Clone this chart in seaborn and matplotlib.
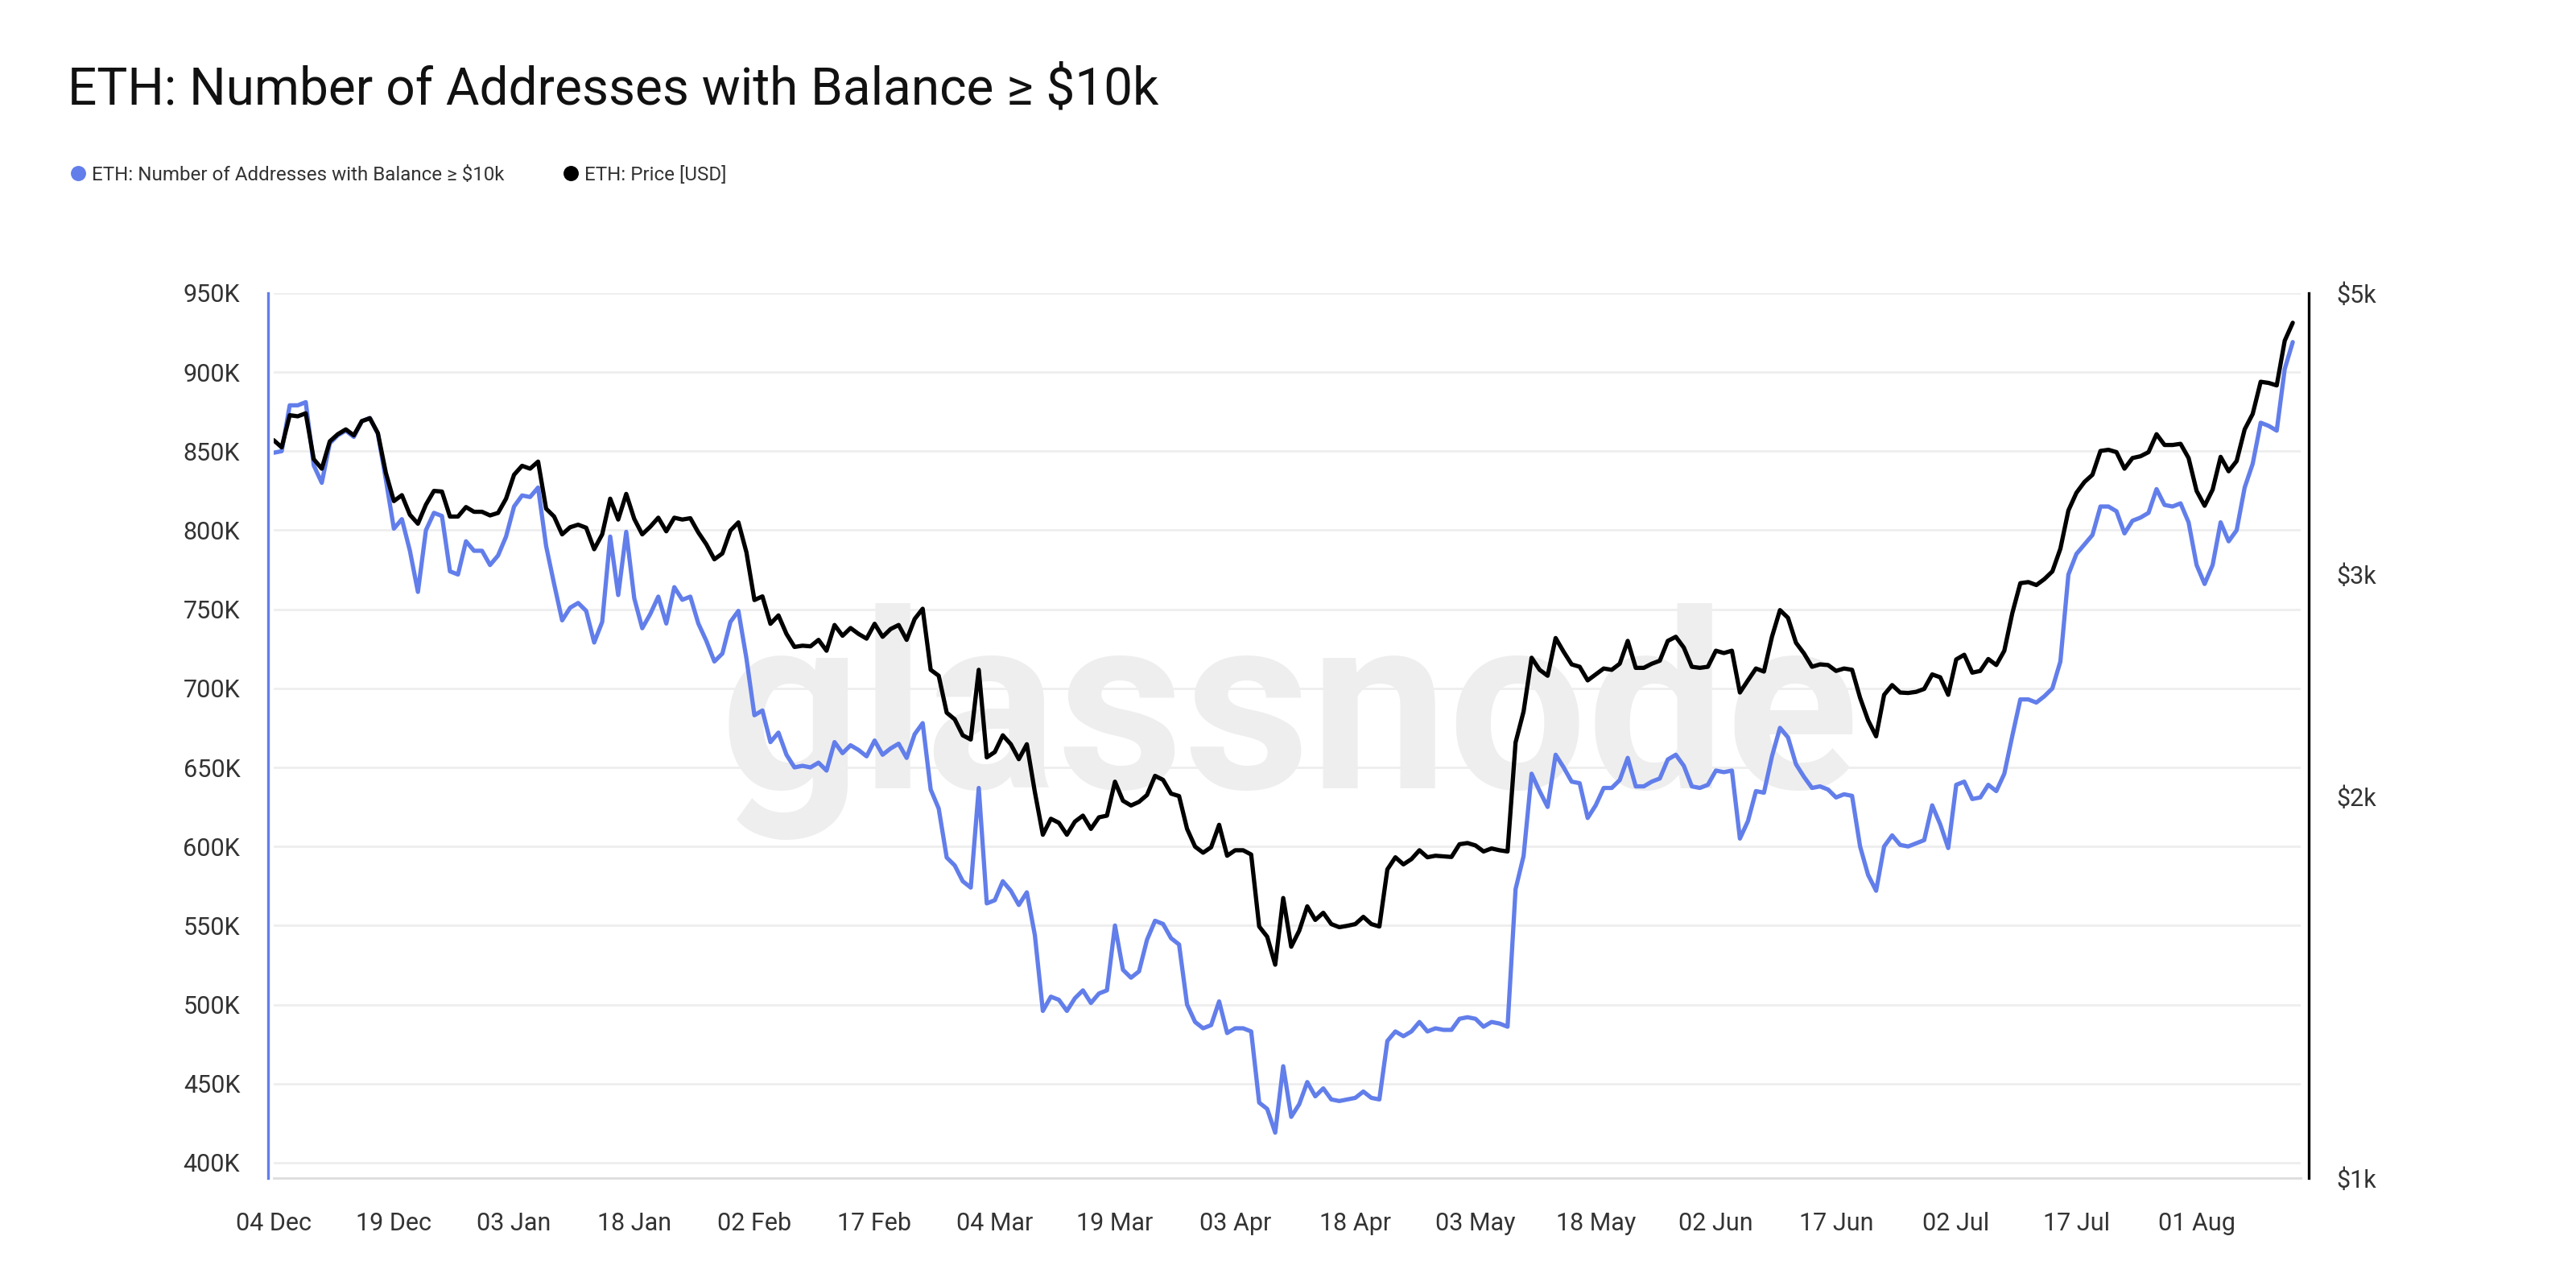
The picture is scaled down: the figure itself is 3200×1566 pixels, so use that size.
import pandas as pd
import numpy as np
import seaborn as sns
import matplotlib.pyplot as plt
import matplotlib.ticker as mticker
import matplotlib.dates as mdates
from matplotlib.lines import Line2D

# daily values, 2024-12-04 .. 2025-08-13
addresses_k = [
    849, 850, 879, 879, 881, 841, 830, 855, 860, 863, 859, 869, 871, 861, 832, 801,
    807, 787, 761, 800, 811, 809, 774, 772, 793, 787, 787, 778, 784, 796, 815, 822,
    821, 827, 790, 766, 743, 751, 754, 749, 729, 742, 796, 759, 799, 757, 738, 747,
    758, 741, 764, 756, 758, 741, 730, 717, 722, 742, 749, 719, 683, 686, 666, 672,
    658, 650, 651, 650, 653, 648, 666, 659, 664, 661, 657, 667, 658, 662, 665, 656,
    671, 678, 636, 624, 593, 588, 578, 574, 637, 564, 566, 578, 572, 563, 571, 544,
    496, 505, 503, 496, 504, 509, 501, 507, 509, 550, 522, 517, 521, 541, 553, 551,
    542, 538, 500, 489, 485, 487, 502, 482, 485, 485, 483, 438, 434, 419, 461, 429,
    437, 451, 442, 447, 440, 439, 440, 441, 445, 441, 440, 477, 483, 480, 483, 489,
    483, 485, 484, 484, 491, 492, 491, 486, 489, 488, 486, 573, 594, 646, 635, 625,
    658, 650, 641, 640, 618, 626, 637, 637, 642, 656, 638, 638, 641, 643, 655, 658,
    651, 638, 637, 639, 648, 647, 648, 605, 616, 635, 634, 657, 675, 669, 652, 644,
    637, 638, 636, 631, 633, 632, 600, 582, 572, 600, 607, 601, 600, 602, 604, 626,
    614, 599, 639, 641, 630, 631, 639, 635, 646, 670, 693, 693, 691, 695, 700, 717,
    772, 785, 791, 797, 815, 815, 812, 798, 806, 808, 811, 826, 816, 815, 817, 805,
    778, 766, 778, 805, 793, 800, 827, 842, 868, 866, 863, 902, 919,
]
price_usd = [
    3826, 3777, 4004, 3996, 4018, 3696, 3633, 3818, 3868, 3902, 3860, 3961, 3982, 3876, 3605, 3425,
    3462, 3341, 3287, 3403, 3489, 3485, 3330, 3330, 3388, 3359, 3359, 3337, 3352, 3440, 3593, 3652,
    3633, 3680, 3378, 3330, 3224, 3266, 3281, 3263, 3138, 3224, 3440, 3312, 3470, 3316, 3224, 3269,
    3323, 3242, 3323, 3312, 3320, 3235, 3166, 3081, 3114, 3246, 3295, 3121, 2861, 2880, 2740, 2782,
    2690, 2627, 2633, 2630, 2661, 2609, 2734, 2681, 2719, 2690, 2667, 2740, 2676, 2714, 2734, 2661,
    2764, 2816, 2520, 2493, 2331, 2303, 2237, 2220, 2520, 2149, 2170, 2237, 2201, 2142, 2201, 2018,
    1867, 1922, 1908, 1867, 1912, 1933, 1887, 1927, 1933, 2056, 1986, 1969, 1982, 2007, 2078, 2063,
    2012, 2003, 1887, 1827, 1807, 1825, 1901, 1797, 1815, 1815, 1801, 1580, 1551, 1474, 1664, 1523,
    1568, 1639, 1599, 1620, 1587, 1578, 1582, 1587, 1608, 1587, 1580, 1753, 1792, 1769, 1786, 1815,
    1792, 1797, 1795, 1793, 1835, 1839, 1831, 1811, 1821, 1815, 1811, 2208, 2336, 2576, 2520, 2493,
    2670, 2604, 2545, 2534, 2472, 2499, 2526, 2520, 2548, 2656, 2529, 2529, 2548, 2562, 2656, 2676,
    2624, 2534, 2529, 2534, 2609, 2598, 2609, 2418, 2472, 2526, 2512, 2676, 2809, 2770, 2647, 2596,
    2534, 2545, 2542, 2515, 2526, 2520, 2395, 2299, 2233, 2408, 2451, 2418, 2416, 2421, 2434, 2499,
    2486, 2408, 2568, 2590, 2507, 2515, 2570, 2542, 2609, 2794, 2950, 2956, 2940, 2972, 3014, 3141,
    3367, 3477, 3546, 3593, 3752, 3760, 3744, 3633, 3704, 3716, 3744, 3868, 3793, 3793, 3801, 3704,
    3489, 3396, 3497, 3712, 3616, 3684, 3902, 4013, 4255, 4246, 4227, 4585, 4737,
]
left_ticks = list(range(400000, 950001, 50000))
right_ticks = [1000, 2000, 3000, 5000]
title = 'ETH: Number of Addresses with Balance ≥ $10k'
series_names = ['ETH: Number of Addresses with Balance ≥ $10k', 'ETH: Price [USD]']

dates = pd.date_range('2024-12-04', periods=len(addresses_k), freq='D')
df = pd.DataFrame({'date': dates,
                   'addresses': np.array(addresses_k) * 1000,
                   'price': price_usd})

sns.set_style('white')
plt.rcParams['font.family'] = ['Roboto', 'DejaVu Sans']

BLUE = '#627EEA'
TXT = '#333333'

fig = plt.figure(figsize=(16, 7.83), dpi=200)
ax = fig.add_axes([0.10625, 0.0658, 0.7869, 0.7018])
sns.lineplot(data=df, x='date', y='addresses', ax=ax, color=BLUE, lw=1.9)
ax2 = ax.twinx()
sns.lineplot(data=df, x='date', y='price', ax=ax2, color='black', lw=1.9)

ax.set_xlim(dates[0], dates[0] + pd.Timedelta(days=253))
ax.set_ylim(390300, 950000)
ax2.set_yscale('log')
ax2.set_ylim(1000, 5000)

ax.set_yticks(left_ticks)
ax.yaxis.set_major_formatter(mticker.FuncFormatter(lambda v, p: f'{v / 1000:.0f}K'))
ax2.yaxis.set_major_locator(mticker.FixedLocator(right_ticks))
ax2.yaxis.set_minor_locator(mticker.NullLocator())
ax2.yaxis.set_major_formatter(mticker.FuncFormatter(lambda v, p: f'${v / 1000:.0f}k'))

ax.set_xticks(pd.date_range(dates[0], periods=17, freq='15D'))
ax.xaxis.set_major_formatter(mdates.DateFormatter('%d %b'))

ax.set_xlabel('')
ax.set_ylabel('')
ax2.set_ylabel('')
ax.grid(axis='y', color='#eeeeee', lw=1)
ax.grid(axis='x', visible=False)
ax.set_axisbelow(True)

for s in ['top', 'right']:
    ax.spines[s].set_visible(False)
for s in ['top', 'left', 'bottom']:
    ax2.spines[s].set_visible(False)
ax.spines['left'].set_color(BLUE)
ax.spines['left'].set_linewidth(1.2)
ax.spines['left'].set_position(('outward', 2.5))
ax.spines['bottom'].set_color('#dddddd')
ax.spines['bottom'].set_linewidth(1.0)
ax2.spines['right'].set_color('black')
ax2.spines['right'].set_linewidth(1.2)
ax2.spines['right'].set_position(('outward', 3.6))

ax.tick_params(axis='x', length=9, width=0.8, color='#e6e6e6', labelsize=11,
               labelcolor=TXT, pad=6)
ax.tick_params(axis='y', length=0, labelsize=11, labelcolor=TXT, pad=12.5)
ax2.tick_params(axis='y', length=0, labelsize=11, labelcolor=TXT, pad=12.5)

# watermark
ax.text(0.501, 0.44, 'glassnode', transform=ax.transAxes, ha='center', va='baseline',
        fontsize=110, fontweight='bold', color='#eeeeee', zorder=0)

fig.text(84 / 3200, 1 - 129 / 1566, title, fontsize=23, color='#111111', va='baseline')

handles = [Line2D([], [], marker='o', ls='', color=BLUE, markersize=5.8),
           Line2D([], [], marker='o', ls='', color='black', markersize=5.8)]
fig.legend(handles, series_names, loc='center left', bbox_to_anchor=(90 / 3200, 1 - 217 / 1566),
           ncol=2, frameon=False, fontsize=8.7, handlelength=0.6, handletextpad=0.4,
           columnspacing=3.1, labelcolor=TXT, borderaxespad=0, borderpad=0)

fig.savefig('out.png', dpi=200, facecolor='white')
